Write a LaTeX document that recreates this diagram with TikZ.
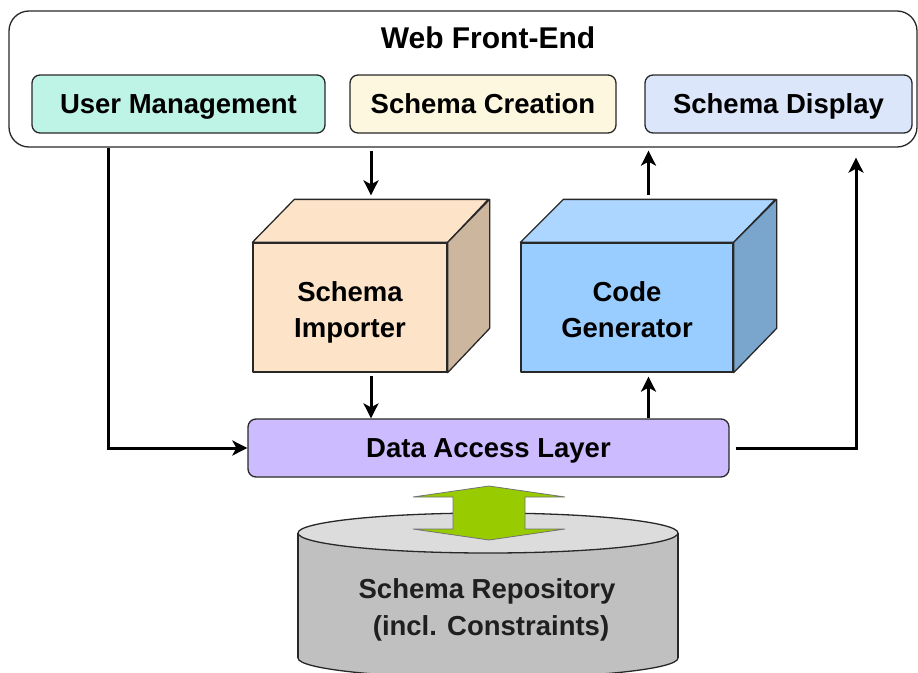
\documentclass[tikz,border=0pt]{standalone}
\usepackage{fontspec}
\setmainfont{Liberation Sans}
\usetikzlibrary{arrows.meta}
\definecolor{umfill}{RGB}{190,244,230}
\definecolor{scfill}{RGB}{252,247,222}
\definecolor{sdfill}{RGB}{220,230,250}
\definecolor{impfront}{RGB}{253,228,201}
\definecolor{impside}{RGB}{205,182,158}
\definecolor{cgfront}{RGB}{153,204,255}
\definecolor{cgtop}{RGB}{172,214,255}
\definecolor{cgside}{RGB}{122,165,204}
\definecolor{dalfill}{RGB}{204,187,255}
\definecolor{cylside}{RGB}{192,192,192}
\definecolor{cyltop}{RGB}{220,220,220}
\definecolor{dbarrow}{RGB}{153,204,0}
\definecolor{edge}{RGB}{40,40,40}
\begin{document}
\begin{tikzpicture}[x=1pt,y=-1pt,
  lbl/.style={font=\fontsize{27.5}{36.5}\selectfont\bfseries, text=black},
  box/.style={draw=edge, line width=1.3pt, rounded corners=8pt, inner sep=0pt, lbl, text height=21pt, text depth=3pt},
  cubeline/.style={draw=edge, line width=1.3pt, line join=round},
  arr/.style={line width=3pt, draw=black, -{Stealth[length=15pt,width=15pt,inset=4pt]}}]
\useasboundingbox (0,0) rectangle (918,672);
\clip (0,0) rectangle (918,672);

% Front-end container
\node[draw=edge, line width=1.3pt, rounded corners=20pt, minimum width=908pt, minimum height=136pt, inner sep=0pt] (fe) at (463,79) {};
\node[font=\fontsize{30}{36}\selectfont\bfseries, inner sep=0pt, text height=22pt, text depth=0pt] (title) at (488,37.3) {Web Front-End};
\node[box, fill=umfill, minimum width=293pt, minimum height=58pt] (um) at (178.5,104) {User Management};
\node[box, fill=scfill, minimum width=266pt, minimum height=58pt] (sc) at (483,104) {Schema Creation};
\node[box, fill=sdfill, minimum width=267pt, minimum height=58pt] (sd) at (778.5,104) {Schema Display};

% Schema importer cube
\node[cubeline, fill=impfront, minimum width=194pt, minimum height=129pt, inner sep=0pt] (imp) at (350,307.5) {};
\draw[cubeline, fill=impfront] (imp.north west) -- ++(42,-43) -- ++(194,0) -- (imp.north east) -- cycle;
\draw[cubeline, fill=impside] (imp.north east) -- ++(42,-43) -- ++(0,129) -- (imp.south east) -- cycle;
\node[lbl, align=center, inner sep=0pt] (implbl) at ([yshift=-4.5pt]imp.center) {\strut Schema\\\strut Importer};
\coordinate (impt) at ([xshift=21pt,yshift=21.5pt]imp.north);
\coordinate (impback) at ([xshift=42pt,yshift=43pt]imp.north west);

% Code generator cube
\node[cubeline, fill=cgfront, minimum width=212pt, minimum height=129pt, inner sep=0pt] (cg) at (627,307.5) {};
\draw[cubeline, fill=cgtop] (cg.north west) -- ++(43,-43) -- ++(212,0) -- (cg.north east) -- cycle;
\draw[cubeline, fill=cgside] (cg.north east) -- ++(43,-43) -- ++(0,129) -- (cg.south east) -- cycle;
\node[lbl, align=center, inner sep=0pt] (cglbl) at ([yshift=-4.5pt]cg.center) {\strut Code\\\strut Generator};
\coordinate (cgt) at ([xshift=21.5pt,yshift=21.5pt]cg.north);
\coordinate (cgback) at ([xshift=43pt,yshift=43pt]cg.north west);

% Data access layer
\node[box, fill=dalfill, minimum width=481pt, minimum height=58pt] (dal) at (488.5,448) {Data Access Layer};

% Repository cylinder
\fill[cylside, draw=edge, line width=1.3pt] (488,658) ellipse [x radius=190, y radius=20];
\fill[cylside] (298,533) rectangle (678,658);
\draw[edge, line width=1.3pt] (298,533) -- (298,658) (678,533) -- (678,658);
\draw[fill=cyltop, draw=edge, line width=1.3pt] (488,533) ellipse [x radius=190, y radius=20];
\node[font=\fontsize{27.5}{37.5}\selectfont\bfseries, text=black!88, align=center, inner sep=0pt] (repo) at (487,609.5) {\strut Schema Repository\\\strut\hspace*{8pt}(incl. Constraints)};

% Green double arrow
\draw[fill=dbarrow, draw=black!55, line width=0.8pt, line join=miter]
  (489,486) -- (565,497) -- (525,497) -- (525,529) -- (565,529) -- (489,540)
  -- (413,529) -- (453,529) -- (453,497) -- (413,497) -- cycle;

% Connectors
\coordinate (lcol) at (108,448);
\coordinate (rcol) at (856,448);
\draw[arr] (fe.south -| lcol) |- (dal.west);
\draw[arr] ([yshift=-3pt]fe.south -| impt) -- ([yshift=4pt]impt |- impback);
\draw[arr] ([yshift=-3pt]imp.south -| impt) -- (dal.north -| impt);
\draw[arr] (dal.north -| cgt) -- ([yshift=-4pt]cg.south -| cgt);
\draw[arr] ([yshift=4pt]cgt |- cgback) -- ([yshift=-3pt]fe.south -| cgt);
\draw[arr] ([xshift=6pt]dal.east) -| ([yshift=-10pt]fe.south -| rcol);
\end{tikzpicture}
\end{document}
